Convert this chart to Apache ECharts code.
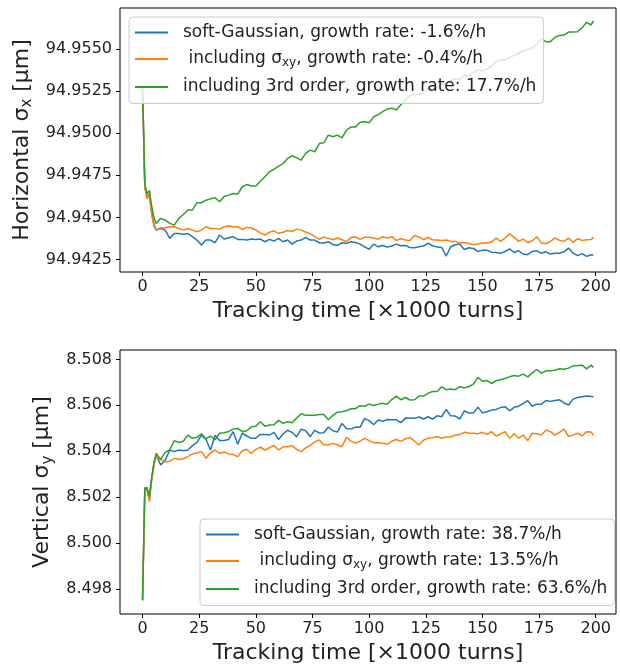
<!DOCTYPE html>
<html><head><meta charset="utf-8">
<script src="https://cdn.jsdelivr.net/npm/echarts@6/dist/echarts.min.js"></script>
<style>html,body{margin:0;padding:0;background:#fff}#c{width:620px;height:668px}</style>
</head><body><div id="c"></div>
<script>
// Tracking time [x1000 turns]
const turns = [0,1,2,3,4,5,6,8,10,12,
14,16,18,20,22,24,26,28,30,32,
34,36,38,40,42,44,46,48,50,52,
54,56,58,60,62,64,66,68,70,72,
74,76,78,80,82,84,86,88,90,92,
94,96,98,100,102,104,106,108,110,112,
114,116,118,120,122,124,126,128,130,132,
134,136,138,140,142,144,146,148,150,152,
154,156,158,160,162,164,166,168,170,172,
174,176,178,180,182,184,186,188,190,192,
194,196,198,199];

// Horizontal sigma_x [um]
const hBlue = [94.9527,94.9468,94.9462,94.9464,94.9453,94.9446,94.94424,94.94434,94.94424,94.94375,
94.94404,94.94404,94.94400,94.94404,94.94385,94.94365,94.94335,94.94365,94.94365,94.94349,
94.94395,94.94371,94.94379,94.94385,94.94369,94.94369,94.94365,94.94371,94.94369,94.94371,
94.94355,94.94369,94.94359,94.94375,94.94355,94.94365,94.94341,94.94359,94.94365,94.94381,
94.94365,94.94365,94.94349,94.94347,94.94355,94.94339,94.94333,94.94349,94.94345,94.94355,
94.94351,94.94341,94.94325,94.94310,94.94341,94.94325,94.94333,94.94323,94.94329,94.94341,
94.94331,94.94333,94.94321,94.94319,94.94325,94.94329,94.94347,94.94331,94.94323,94.94321,
94.94270,94.94325,94.94337,94.94341,94.94309,94.94319,94.94315,94.94297,94.94305,94.94305,
94.94293,94.94291,94.94286,94.94297,94.94313,94.94291,94.94301,94.94282,94.94278,94.94297,
94.94301,94.94287,94.94295,94.94282,94.94287,94.94287,94.94295,94.94317,94.94287,94.94272,
94.94284,94.94268,94.94278,94.94274];
const hOrange = [94.9527,94.9468,94.9461,94.9464,94.9452,94.9445,94.94424,94.94438,94.94438,94.94444,
94.94444,94.94434,94.94424,94.94434,94.94424,94.94414,94.94424,94.94444,94.94434,94.94434,
94.94430,94.94444,94.94450,94.94444,94.94444,94.94428,94.94440,94.94438,94.94424,94.94408,
94.94395,94.94411,94.94420,94.94405,94.94411,94.94422,94.94416,94.94430,94.94424,94.94413,
94.94403,94.94385,94.94369,94.94383,94.94375,94.94367,94.94377,94.94367,94.94355,94.94381,
94.94383,94.94369,94.94381,94.94381,94.94377,94.94369,94.94385,94.94377,94.94385,94.94363,
94.94373,94.94365,94.94363,94.94392,94.94383,94.94367,94.94381,94.94367,94.94365,94.94363,
94.94365,94.94357,94.94357,94.94347,94.94351,94.94345,94.94337,94.94341,94.94347,94.94347,
94.94353,94.94377,94.94357,94.94377,94.94402,94.94381,94.94357,94.94371,94.94349,94.94361,
94.94385,94.94347,94.94343,94.94357,94.94377,94.94363,94.94357,94.94377,94.94351,94.94373,
94.94363,94.94367,94.94369,94.94381];
const hGreen = [94.9528,94.9470,94.9464,94.9466,94.9457,94.9450,94.94464,94.94494,94.94484,94.94464,
94.94454,94.94494,94.94517,94.94543,94.94543,94.94587,94.94587,94.94602,94.94610,94.94616,
94.94593,94.94624,94.94632,94.94642,94.94638,94.94682,94.94695,94.94686,94.94686,94.94715,
94.94741,94.94771,94.94785,94.94805,94.94820,94.94850,94.94866,94.94854,94.94840,94.94880,
94.94900,94.94890,94.94939,94.94943,94.94989,94.94979,94.94989,94.94973,94.95018,94.95038,
94.95038,94.95066,94.95068,94.95062,94.95098,94.95111,94.95129,94.95145,94.95149,94.95139,
94.95169,94.95198,94.95224,94.95232,94.95232,94.95242,94.95268,94.95258,94.95274,94.95293,
94.95293,94.95313,94.95323,94.95319,94.95343,94.95339,94.95361,94.95377,94.95371,94.95384,
94.95396,94.95426,94.95436,94.95436,94.95450,94.95464,94.95476,94.95489,94.95499,94.95507,
94.95529,94.95561,94.95545,94.95545,94.95571,94.95582,94.95584,94.95602,94.95602,94.95604,
94.95628,94.95660,94.95644,94.95668];

// Vertical sigma_y [um]
const vBlue = [8.4975,8.5023,8.5024,8.5019,8.5028,8.5034,8.50383,8.50340,8.50361,8.50405,
8.50398,8.50405,8.50402,8.50405,8.50424,8.50438,8.50470,8.50451,8.50405,8.50469,
8.50446,8.50446,8.50451,8.50485,8.50430,8.50478,8.50466,8.50456,8.50456,8.50473,
8.50473,8.50470,8.50482,8.50451,8.50475,8.50491,8.50482,8.50462,8.50496,8.50489,
8.50463,8.50492,8.50479,8.50480,8.50505,8.50489,8.50483,8.50521,8.50499,8.50496,
8.50505,8.50504,8.50543,8.50533,8.50515,8.50536,8.50530,8.50538,8.50537,8.50537,
8.50524,8.50544,8.50543,8.50543,8.50549,8.50540,8.50550,8.50540,8.50554,8.50550,
8.50582,8.50554,8.50553,8.50540,8.50576,8.50566,8.50566,8.50592,8.50567,8.50572,
8.50579,8.50582,8.50590,8.50594,8.50576,8.50591,8.50596,8.50608,8.50620,8.50596,
8.50605,8.50604,8.50621,8.50617,8.50621,8.50624,8.50610,8.50601,8.50627,8.50634,
8.50637,8.50640,8.50638,8.50637];
const vOrange = [8.4975,8.5023,8.5023,8.5018,8.5027,8.5034,8.50376,8.50363,8.50353,8.50356,
8.50369,8.50364,8.50367,8.50376,8.50388,8.50392,8.50398,8.50369,8.50393,8.50405,
8.50390,8.50396,8.50388,8.50385,8.50376,8.50402,8.50408,8.50390,8.50408,8.50417,
8.50405,8.50415,8.50425,8.50405,8.50419,8.50419,8.50424,8.50408,8.50398,8.50414,
8.50425,8.50441,8.50448,8.50428,8.50427,8.50434,8.50428,8.50419,8.50460,8.50444,
8.50435,8.50444,8.50456,8.50446,8.50437,8.50437,8.50434,8.50431,8.50443,8.50451,
8.50443,8.50454,8.50460,8.50444,8.50427,8.50448,8.50456,8.50459,8.50464,8.50456,
8.50462,8.50463,8.50470,8.50473,8.50482,8.50479,8.50478,8.50476,8.50482,8.50473,
8.50485,8.50466,8.50475,8.50485,8.50456,8.50476,8.50457,8.50470,8.50446,8.50478,
8.50476,8.50470,8.50491,8.50485,8.50470,8.50482,8.50496,8.50464,8.50470,8.50478,
8.50467,8.50485,8.50483,8.50469];
const vGreen = [8.4975,8.5024,8.5024,8.5020,8.5028,8.5035,8.50390,8.50364,8.50395,8.50405,
8.50446,8.50438,8.50443,8.50470,8.50456,8.50460,8.50476,8.50453,8.50466,8.50449,
8.50478,8.50480,8.50486,8.50496,8.50499,8.50485,8.50489,8.50506,8.50509,8.50528,
8.50509,8.50514,8.50515,8.50534,8.50521,8.50528,8.50524,8.50544,8.50563,8.50556,
8.50556,8.50557,8.50560,8.50560,8.50537,8.50556,8.50570,8.50572,8.50576,8.50585,
8.50585,8.50598,8.50596,8.50605,8.50599,8.50605,8.50609,8.50604,8.50625,8.50640,
8.50624,8.50634,8.50623,8.50624,8.50640,8.50640,8.50652,8.50660,8.50660,8.50681,
8.50668,8.50671,8.50668,8.50681,8.50676,8.50682,8.50692,8.50721,8.50705,8.50708,
8.50695,8.50707,8.50711,8.50717,8.50724,8.50730,8.50727,8.50736,8.50724,8.50741,
8.50756,8.50740,8.50750,8.50750,8.50753,8.50759,8.50757,8.50762,8.50772,8.50773,
8.50775,8.50759,8.50775,8.50765];

const xTicks = [0,25,50,75,100,125,150,175,200];
const hTicks = [94.9425,94.9450,94.9475,94.9500,94.9525,94.9550];
const vTicks = [8.498,8.500,8.502,8.504,8.506,8.508];
const hNames = ['soft-Gaussian, growth rate: -1.6%/h', ' including σxy, growth rate: -0.4%/h', 'including 3rd order, growth rate: 17.7%/h'];
const vNames = ['soft-Gaussian, growth rate: 38.7%/h', ' including σxy, growth rate: 13.5%/h', 'including 3rd order, growth rate: 63.6%/h'];
const colors = ['#1f77b4', '#ff7f0e', '#2ca02c'];

const FONT = 'DejaVu Sans';
const TXT = '#222';

function pairs(ys) { return turns.map((t, i) => [t, ys[i]]); }

function legendFmt(name) {
  const i = name.indexOf('σxy');
  if (i < 0) return '{t|' + name + '}';
  return '{t|' + name.slice(0, i + 1) + '}{s|xy}{t|' + name.slice(i + 3) + '}';
}

function xAxisCfg(gi) {
  return {
    type: 'value', gridIndex: gi, min: -9.95, max: 208.95,
    name: 'Tracking time [×1000 turns]', nameLocation: 'middle', nameGap: 26,
    nameTextStyle: { fontFamily: FONT, fontSize: 22, color: TXT, lineHeight: 26 },
    axisLine: { show: false, onZero: false },
    axisTick: { show: true, length: 4, lineStyle: { color: '#000', width: 1 }, customValues: xTicks },
    axisLabel: { show: true, margin: 7, fontFamily: FONT, fontSize: 16, color: TXT, customValues: xTicks, formatter: v => String(v) },
    splitLine: { show: false }
  };
}

function yAxisCfg(gi, min, max, ticks, dec, nameRich, gap) {
  return {
    type: 'value', gridIndex: gi, min: min, max: max,
    name: nameRich, nameLocation: 'middle', nameGap: gap,
    nameTextStyle: {
      fontFamily: FONT, color: TXT,
      rich: {
        t: { fontFamily: FONT, fontSize: 22, color: TXT, lineHeight: 26 },
        s: { fontFamily: FONT, fontSize: 15, color: TXT, lineHeight: 14, verticalAlign: 'bottom' }
      }
    },
    axisLine: { show: false, onZero: false },
    axisTick: { show: true, length: 4, lineStyle: { color: '#000', width: 1 }, customValues: ticks },
    axisLabel: { show: true, margin: 8, fontFamily: FONT, fontSize: 16, color: TXT, customValues: ticks, formatter: v => Number(v).toFixed(dec) },
    splitLine: { show: false }
  };
}

function legendCfg(names, left, top) {
  return {
    data: names, orient: 'vertical', left: left, top: top,
    icon: 'rect', itemWidth: 33, itemHeight: 2, itemGap: 9.5,
    padding: [7, 7, 8, 6],
    backgroundColor: 'rgba(255,255,255,0.8)', borderColor: '#cccccc', borderWidth: 1, borderRadius: 4,
    formatter: legendFmt,
    textStyle: {
      fontFamily: FONT, color: TXT, padding: [0, 0, 0, 10],
      rich: {
        t: { fontFamily: FONT, fontSize: 17, color: TXT, lineHeight: 20 },
        s: { fontFamily: FONT, fontSize: 12, color: TXT, lineHeight: 11, verticalAlign: 'bottom' }
      }
    },
    selectedMode: false
  };
}

function lineSeries(name, ys, gi, color) {
  return {
    type: 'line', name: name, data: pairs(ys), xAxisIndex: gi, yAxisIndex: gi,
    showSymbol: false, symbol: 'none', color: color,
    lineStyle: { color: color, width: 1.5 }, emphasis: { disabled: true }
  };
}

const chart = echarts.init(document.getElementById('c'), null, { renderer: 'canvas' });
chart.setOption({
  animation: false,
  backgroundColor: '#fff',
  grid: [
    { left: 120, right: 4, top: 8, height: 264, show: true, borderColor: '#000', borderWidth: 1, backgroundColor: 'transparent' },
    { left: 120, right: 4, top: 350, height: 264, show: true, borderColor: '#000', borderWidth: 1, backgroundColor: 'transparent' }
  ],
  xAxis: [xAxisCfg(0), xAxisCfg(1)],
  yAxis: [
    yAxisCfg(0, 94.94175, 94.95745, hTicks, 4, '{t|Horizontal σ}{s|x}{t| [μm]}', 78),
    yAxisCfg(1, 8.4969, 8.50841, vTicks, 3, '{t|Vertical σ}{s|y}{t| [μm]}', 60)
  ],
  legend: [legendCfg(hNames, 129, 17), legendCfg(vNames, 200, 519)],
  series: [
    lineSeries(hNames[0], hBlue, 0, colors[0]),
    lineSeries(hNames[1], hOrange, 0, colors[1]),
    lineSeries(hNames[2], hGreen, 0, colors[2]),
    lineSeries(vNames[0], vBlue, 1, colors[0]),
    lineSeries(vNames[1], vOrange, 1, colors[1]),
    lineSeries(vNames[2], vGreen, 1, colors[2])
  ]
});
</script>
</body></html>
